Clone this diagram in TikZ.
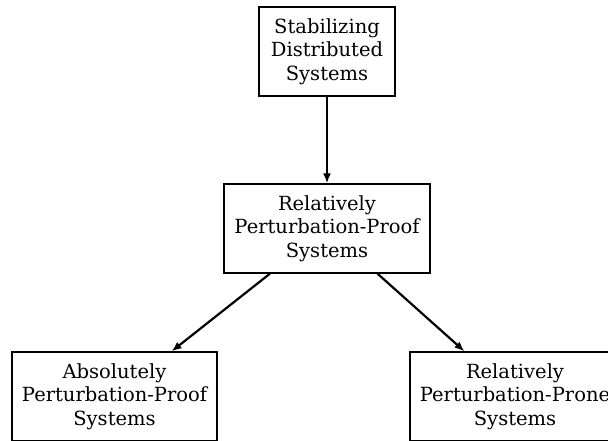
\documentclass[tikz,border=0pt]{standalone}
\usepackage{fontspec}
\setmainfont{DejaVu Serif}
\usetikzlibrary{arrows.meta,positioning}

\begin{document}
\begin{tikzpicture}[x=1pt, y=-1pt, every node/.style={font=\fontsize{19.5}{23.5}\selectfont}]
        \useasboundingbox (0,0) rectangle (608,440);
        \tikzset{sysbox/.style={draw, line width=1.3pt, align=center, minimum height=89pt, inner sep=0pt}}
        \tikzset{linkarrow/.style={-{Latex[length=10pt,width=8pt]}, line width=2.2pt}}
        \node[sysbox, minimum width=136pt] (stab) at (327,51.5) {Stabilizing\\Distributed\\Systems};
        \node[sysbox, minimum width=206pt] (rpp) at (327,228.5) {Relatively\\Perturbation-Proof\\Systems};
        \node[sysbox, minimum width=205pt] (app) at (114.5,396.5) {Absolutely\\Perturbation-Proof\\Systems};
        \node[sysbox, minimum width=210pt] (rpn) at (515,396.5) {Relatively\\Perturbation-Prone\\Systems};
        \draw[linkarrow] (stab) -- (rpp);
        \draw[linkarrow] (rpp) -- (app);
        \draw[linkarrow] (rpp) -- (rpn);
    \end{tikzpicture}
\end{document}
